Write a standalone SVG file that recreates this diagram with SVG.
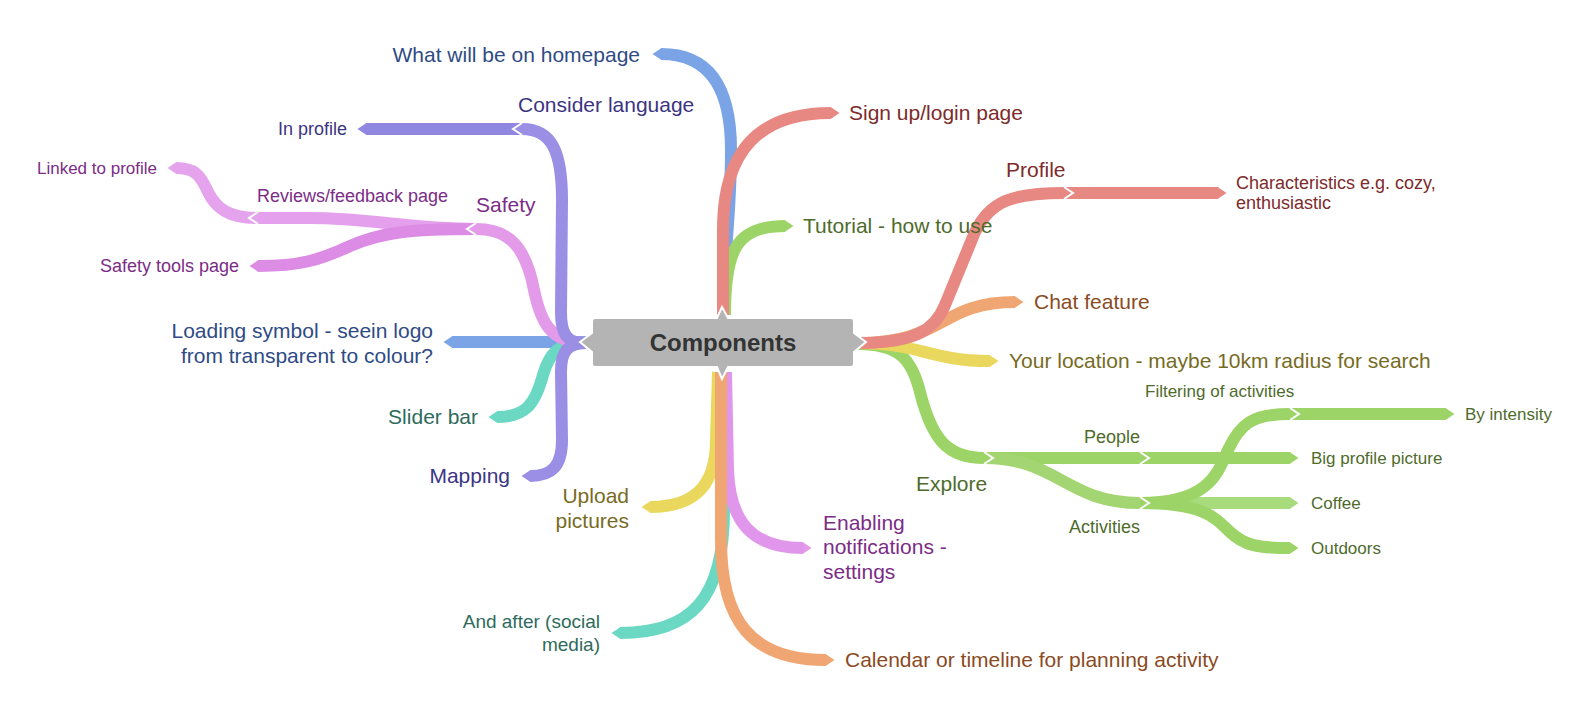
<svg xmlns="http://www.w3.org/2000/svg" width="1590" height="720" viewBox="0 0 1590 720">
<style>
.b{fill:none;stroke-width:12;stroke-linecap:butt}
.sep{fill:none;stroke:#fff;stroke-width:2;stroke-linejoin:miter}
text{font-family:"Liberation Sans",Arial,sans-serif}
.t21{font-size:21px}.t19{font-size:19px}.t18{font-size:18px}.t17{font-size:17px}
.e{text-anchor:end}
.cBlue{fill:#2f4b84}.cPur{fill:#3c3582}.cPink{fill:#7b2d86}.cTeal{fill:#2e6b5c}
.cRed{fill:#7d2b2b}.cGreen{fill:#4e6b2c}.cOr{fill:#8a4b1f}.cYel{fill:#776b24}
</style>
<defs>
<marker id="mBlue" viewBox="0 0 10 12" refX="0.5" refY="6" markerWidth="10" markerHeight="12" markerUnits="userSpaceOnUse" orient="auto"><path d="M0,0 L9,6 L0,12 Z" fill="#7ba4e6"/></marker>
<marker id="mPur" viewBox="0 0 10 12" refX="0.5" refY="6" markerWidth="10" markerHeight="12" markerUnits="userSpaceOnUse" orient="auto"><path d="M0,0 L9,6 L0,12 Z" fill="#9a8fe4"/></marker>
<marker id="mPurD" viewBox="0 0 10 12" refX="0.5" refY="6" markerWidth="10" markerHeight="12" markerUnits="userSpaceOnUse" orient="auto"><path d="M0,0 L9,6 L0,12 Z" fill="#8f87e0"/></marker>
<marker id="mPink" viewBox="0 0 10 12" refX="0.5" refY="6" markerWidth="10" markerHeight="12" markerUnits="userSpaceOnUse" orient="auto"><path d="M0,0 L9,6 L0,12 Z" fill="#e39ae9"/></marker>
<marker id="mPinkL" viewBox="0 0 10 12" refX="0.5" refY="6" markerWidth="10" markerHeight="12" markerUnits="userSpaceOnUse" orient="auto"><path d="M0,0 L9,6 L0,12 Z" fill="#e6a3ed"/></marker>
<marker id="mPinkD" viewBox="0 0 10 12" refX="0.5" refY="6" markerWidth="10" markerHeight="12" markerUnits="userSpaceOnUse" orient="auto"><path d="M0,0 L9,6 L0,12 Z" fill="#dd8ce5"/></marker>
<marker id="mTeal" viewBox="0 0 10 12" refX="0.5" refY="6" markerWidth="10" markerHeight="12" markerUnits="userSpaceOnUse" orient="auto"><path d="M0,0 L9,6 L0,12 Z" fill="#6bd8c4"/></marker>
<marker id="mRed" viewBox="0 0 10 12" refX="0.5" refY="6" markerWidth="10" markerHeight="12" markerUnits="userSpaceOnUse" orient="auto"><path d="M0,0 L9,6 L0,12 Z" fill="#e88883"/></marker>
<marker id="mGreen" viewBox="0 0 10 12" refX="0.5" refY="6" markerWidth="10" markerHeight="12" markerUnits="userSpaceOnUse" orient="auto"><path d="M0,0 L9,6 L0,12 Z" fill="#9dd468"/></marker>
<marker id="mGreenL" viewBox="0 0 10 12" refX="0.5" refY="6" markerWidth="10" markerHeight="12" markerUnits="userSpaceOnUse" orient="auto"><path d="M0,0 L9,6 L0,12 Z" fill="#a8db7c"/></marker>
<marker id="mOr" viewBox="0 0 10 12" refX="0.5" refY="6" markerWidth="10" markerHeight="12" markerUnits="userSpaceOnUse" orient="auto"><path d="M0,0 L9,6 L0,12 Z" fill="#f0a672"/></marker>
<marker id="mYel" viewBox="0 0 10 12" refX="0.5" refY="6" markerWidth="10" markerHeight="12" markerUnits="userSpaceOnUse" orient="auto"><path d="M0,0 L9,6 L0,12 Z" fill="#ead85e"/></marker>
</defs>
<rect width="1590" height="720" fill="#fff"/>
<g id="connectors">
  <!-- top -->
  <path class="b" stroke="#7ba4e6" marker-end="url(#mBlue)" d="M723,315 C723,260 731,220 731,150 C731,92 712,54 661,54"/>
  <path class="b" stroke="#9dd468" marker-end="url(#mGreen)" d="M725,315 C725,252 735,226 785,226"/>
  <path class="b" stroke="#e88883" marker-end="url(#mRed)" d="M723,315 L723,230 C723,150 760,113 831,113"/>
  <!-- bottom -->
  <path class="b" stroke="#6bd8c4" marker-end="url(#mTeal)" d="M724,372 L724,510 C724,600 690,633 620,633"/>
  <path class="b" stroke="#ead85e" marker-end="url(#mYel)" d="M718,372 L716,440 C716,490 690,507 650,507"/>
  <path class="b" stroke="#e096ea" marker-end="url(#mPink)" d="M726,372 L728,470 C730,522 752,548 803,548"/>
  <path class="b" stroke="#f0a672" marker-end="url(#mOr)" d="M721,372 L721,540 C721,622 752,660 826,660"/>
  <!-- left -->
  <path class="b" stroke="#7ba4e6" marker-end="url(#mBlue)" d="M586,342 L452,342"/>
  <path class="b" stroke="#6bd8c4" marker-end="url(#mTeal)" d="M586,343 C556,343 549,355 543,375 C535,405 525,417 497,417"/>
  <path class="b" stroke="#e6a3ed" marker-end="url(#mPinkL)" d="M258,218 C228,218 216,208 208,192 C200,174 194,168 176,168"/>
  <path class="b" stroke="#e4a0ec" marker-end="url(#mPinkL)" d="M476,229 C410,229 370,218 310,218 L258,218"/>
  <path class="b" stroke="#dd8ce5" marker-end="url(#mPinkD)" d="M476,229 C412,229 382,232 350,246 C320,260 300,266 258,266"/>
  <path class="b" stroke="#e39ae9" marker-end="url(#mPink)" d="M586,343 C548,343 540,318 534,290 C526,248 510,229 476,229"/>
  <path class="b" stroke="#8f87e0" marker-end="url(#mPurD)" d="M522,129 L366,129"/>
  <path class="b" stroke="#9a8fe4" marker-end="url(#mPur)" d="M586,343 C567,343 561,335 561,312 L562,200 C562,152 552,129 522,129"/>
  <path class="b" stroke="#9a8fe4" marker-end="url(#mPur)" d="M586,343 C567,343 561,352 561,372 L562,440 C562,466 552,476 530,476"/>
  <!-- right -->
  <path class="b" stroke="#9dd468" marker-end="url(#mGreen)" d="M1140,458 L1290,458"/>
  <path class="b" stroke="#9dd468" marker-end="url(#mGreen)" d="M984,458 L1140,458"/>
  <path class="b" stroke="#a8db7c" marker-end="url(#mGreenL)" d="M1140,503 L1290,503"/>
  <path class="b" stroke="#9dd468" marker-end="url(#mGreen)" d="M1140,503 C1205,503 1215,518 1230,532 C1244,545 1256,548 1290,548"/>
  <path class="b" stroke="#9dd468" marker-end="url(#mGreen)" d="M1290,414 L1446,414"/>
  <path class="b" stroke="#9dd468" marker-end="url(#mGreen)" d="M1140,503 C1210,503 1218,472 1228,450 C1240,424 1252,414 1290,414"/>
  <path class="b" stroke="#a3d672" marker-end="url(#mGreen)" d="M984,458 C1058,458 1066,503 1140,503"/>
  <path class="b" stroke="#9dd468" marker-end="url(#mGreen)" d="M858,344 C900,344 912,360 920,392 C932,440 948,458 984,458"/>
  <path class="b" stroke="#ead85e" marker-end="url(#mYel)" d="M858,343 C920,343 930,361 990,361"/>
  <path class="b" stroke="#f0a672" marker-end="url(#mOr)" d="M858,343 C945,343 940,302 1015,302"/>
  <path class="b" stroke="#e88883" marker-end="url(#mRed)" d="M1064,193 L1218,193"/>
  <path class="b" stroke="#e88883" marker-end="url(#mRed)" d="M858,343 C915,343 935,330 945,305 L975,232 C990,202 1010,193 1064,193"/>
  <!-- junction separators -->
  <polyline class="sep" points="522,123 513,129 522,135"/>
  <polyline class="sep" points="476,223 467,229 476,235"/>
  <polyline class="sep" points="258,212 249,218 258,224"/>
  <polyline class="sep" points="1064,187 1073,193 1064,199"/>
  <polyline class="sep" points="984,452 993,458 984,464"/>
  <polyline class="sep" points="1140,452 1149,458 1140,464"/>
  <polyline class="sep" points="1140,497 1149,503 1140,509"/>
  <polyline class="sep" points="1290,408 1299,414 1290,420"/>
</g>
<g id="node-components">
  <path d="M595,318 H717 L722,307 L728,318 H851 Q854,318 854,321 V333 L866,342 L854,352 V364 Q854,367 851,367 H728 L722,379 L717,367 H595 Q592,367 592,364 V352 L580,342 L592,333 V321 Q592,318 595,318 Z" fill="#b4b4b4" stroke="#fff" stroke-width="2"/>
  <text x="723" y="351" text-anchor="middle" font-size="24" font-weight="bold" fill="#333">Components</text>
</g>
<g id="node-homepage"><text class="t21 e cBlue" x="640" y="62">What will be on homepage</text></g>
<g id="node-signup"><text class="t21 cRed" x="849" y="120">Sign up/login page</text></g>
<g id="node-tutorial"><text class="t21 cGreen" x="803" y="233">Tutorial - how to use</text></g>
<g id="node-consider"><text class="t21 cPur" x="518" y="112">Consider language</text></g>
<g id="node-inprofile"><text class="t18 e cPur" x="347" y="135">In profile</text></g>
<g id="node-safety"><text class="t21 cPink" x="476" y="212">Safety</text></g>
<g id="node-reviews"><text class="t18 cPink" x="257" y="202">Reviews/feedback page</text></g>
<g id="node-linked"><text class="t17 e cPink" x="157" y="174">Linked to profile</text></g>
<g id="node-safetytools"><text class="t18 e cPink" x="239" y="272">Safety tools page</text></g>
<g id="node-loading"><text class="t21 e cBlue" x="433" y="338">Loading symbol - seein logo</text><text class="t21 e cBlue" x="433" y="363">from transparent to colour?</text></g>
<g id="node-slider"><text class="t21 e cTeal" x="478" y="424">Slider bar</text></g>
<g id="node-mapping"><text class="t21 e cPur" x="510" y="483">Mapping</text></g>
<g id="node-upload"><text class="t21 e cYel" x="629" y="503">Upload</text><text class="t21 e cYel" x="629" y="528">pictures</text></g>
<g id="node-after"><text class="t19 e cTeal" x="600" y="628">And after (social</text><text class="t19 e cTeal" x="600" y="651">media)</text></g>
<g id="node-enabling"><text class="t21 cPink" x="823" y="530">Enabling</text><text class="t21 cPink" x="823" y="554">notifications -</text><text class="t21 cPink" x="823" y="579">settings</text></g>
<g id="node-calendar"><text class="t21 cOr" x="845" y="667">Calendar or timeline for planning activity</text></g>
<g id="node-profile"><text class="t21 cRed" x="1006" y="177">Profile</text></g>
<g id="node-characteristics"><text class="t18 cRed" x="1236" y="189">Characteristics e.g. cozy,</text><text class="t18 cRed" x="1236" y="209">enthusiastic</text></g>
<g id="node-chat"><text class="t21 cOr" x="1034" y="309">Chat feature</text></g>
<g id="node-location"><text class="t21 cYel" x="1009" y="368">Your location - maybe 10km radius for search</text></g>
<g id="node-explore"><text class="t21 cGreen" x="916" y="491">Explore</text></g>
<g id="node-people"><text class="t18 cGreen" x="1084" y="443">People</text></g>
<g id="node-activities"><text class="t18 cGreen" x="1069" y="533">Activities</text></g>
<g id="node-filtering"><text class="t17 cGreen" x="1145" y="397">Filtering of activities</text></g>
<g id="node-intensity"><text class="t17 cGreen" x="1465" y="420">By intensity</text></g>
<g id="node-bigprofile"><text class="t17 cGreen" x="1311" y="464">Big profile picture</text></g>
<g id="node-coffee"><text class="t17 cGreen" x="1311" y="509">Coffee</text></g>
<g id="node-outdoors"><text class="t17 cGreen" x="1311" y="554">Outdoors</text></g>
</svg>
